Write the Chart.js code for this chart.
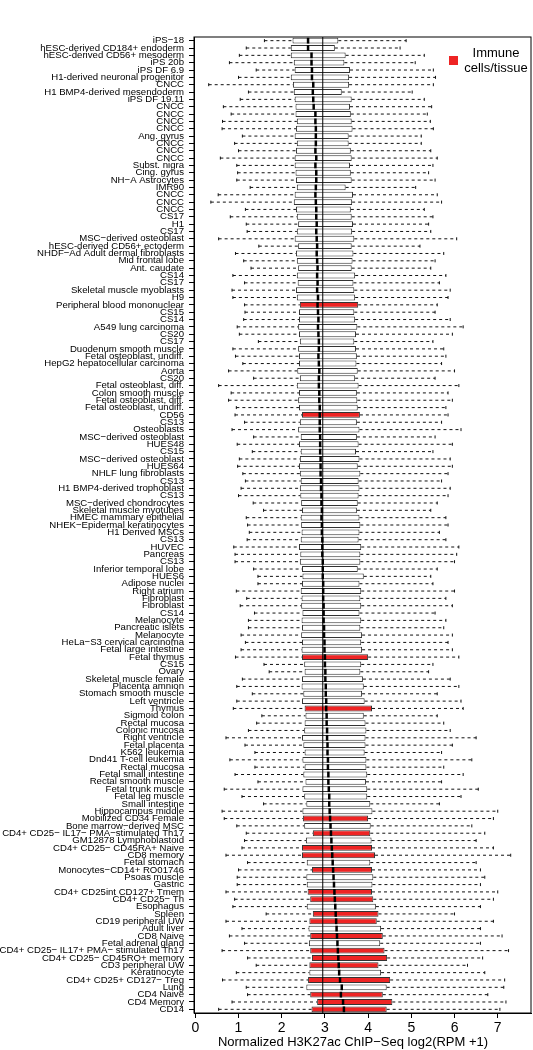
<!DOCTYPE html>
<html>
<head>
<meta charset="utf-8">
<script src="https://cdn.jsdelivr.net/npm/chart.js@4.4.1/dist/chart.umd.min.js"></script>
<style>
  html, body { margin: 0; padding: 0; background: #fff; }
  #wrap { width: 533px; height: 1050px; position: relative; }
</style>
</head>
<body>
<div id="wrap"><canvas id="boxChart"></canvas></div>
<script>
// samples, top to bottom
const labels = [
  "iPS−18", "hESC-derived CD184+ endoderm", "hESC-derived CD56+ mesoderm", "iPS 20b", "iPS DF 6.9",
  "H1-derived neuronal progenitor", "CNCC", "H1 BMP4-derived mesendoderm", "iPS DF 19.11", "CNCC",
  "CNCC", "CNCC", "CNCC", "Ang. gyrus", "CNCC", "CNCC", "CNCC", "Subst. nigra", "Cing. gyrus",
  "NH−A Astrocytes", "IMR90", "CNCC", "CNCC", "CNCC", "CS17", "H1", "CS17", "MSC−derived osteoblast",
  "hESC-derived CD56+ ectoderm", "NHDF−Ad Adult dermal fibroblasts", "Mid frontal lobe", "Ant. caudate",
  "CS14", "CS17", "Skeletal muscle myoblasts", "H9", "Peripheral blood mononuclear", "CS15", "CS14",
  "A549 lung carcinoma", "CS20", "CS17", "Duodenum smooth muscle", "Fetal osteoblast, undiff.",
  "HepG2 hepatocellular carcinoma", "Aorta", "CS20", "Fetal osteoblast, diff.", "Colon smooth muscle",
  "Fetal osteoblast, diff.", "Fetal osteoblast, undiff.", "CD56", "CS13", "Osteoblasts",
  "MSC−derived osteoblast", "HUES48", "CS15", "MSC−derived osteoblast", "HUES64", "NHLF lung fibroblasts",
  "CS13", "H1 BMP4-derived trophoblast", "CS13", "MSC−derived chondrocytes", "Skeletal muscle myotubes",
  "HMEC mammary epithelial", "NHEK−Epidermal keratinocytes", "H1 Derived MSCs", "CS13", "HUVEC",
  "Pancreas", "CS13", "Inferior temporal lobe", "HUES6", "Adipose nuclei", "Right atrium", "Fibroblast",
  "Fibroblast", "CS14", "Melanocyte", "Pancreatic islets", "Melanocyte", "HeLa−S3 cervical carcinoma",
  "Fetal large intestine", "Fetal thymus", "CS15", "Ovary", "Skeletal muscle female", "Placenta amnion",
  "Stomach smooth muscle", "Left ventricle", "Thymus", "Sigmoid colon", "Rectal mucosa", "Colonic mucosa",
  "Right ventricle", "Fetal placenta", "K562 leukemia", "Dnd41 T-cell leukemia", "Rectal mucosa",
  "Fetal small intestine", "Rectal smooth muscle", "Fetal trunk muscle", "Fetal leg muscle",
  "Small intestine", "Hippocampus middle", "Mobilized CD34 Female", "Bone marrow−derived MSC",
  "CD4+ CD25− IL17− PMA−stimulated Th17", "GM12878 Lymphoblastoid", "CD4+ CD25− CD45RA+ Naive",
  "CD8 memory", "Fetal stomach", "Monocytes−CD14+ RO01746", "Psoas muscle", "Gastric",
  "CD4+ CD25int CD127+ Tmem", "CD4+ CD25− Th", "Esophagus", "Spleen", "CD19 peripheral UW",
  "Adult liver", "CD8 Naive", "Fetal adrenal gland", "CD4+ CD25− IL17+ PMA− stimulated Th17",
  "CD4+ CD25− CD45RO+ memory", "CD3 peripheral UW", "Keratinocyte", "CD4+ CD25+ CD127− Treg",
  "Lung", "CD4 Naive", "CD4 Memory", "CD14"
];

// 1 = immune cells/tissue
const immune = [
  0,0,0,0,0,0,0,0,0,0,0,0,
  0,0,0,0,0,0,0,0,0,0,0,0,0,0,
  0,0,0,0,0,0,0,0,0,0,1,0,
  0,0,0,0,0,0,0,0,0,0,0,0,0,
  1,0,0,0,0,0,0,0,0,0,0,0,0,
  0,0,0,0,0,0,0,0,0,0,0,0,0,
  0,0,0,0,0,0,0,1,0,0,0,0,0,
  0,1,0,0,0,0,0,0,0,0,0,0,0,
  0,0,0,1,0,1,0,1,1,0,1,0,0,
  1,1,0,1,1,0,1,0,1,1,1,0,1,
  0,1,1,1
];

// lower whisker, Q1, median, Q3, upper whisker
const whiskerLow = [
  1.60,1.18,1.02,0.79,1.41,1.00,0.31,1.23,1.04,0.65,0.83,0.63,
  0.62,1.09,0.91,1.00,0.58,0.96,0.98,0.96,1.27,0.53,0.36,1.16,0.81,1.18,
  1.20,0.54,1.47,0.93,1.12,1.29,0.87,1.14,0.85,0.87,1.14,1.15,
  1.12,0.97,1.02,1.46,0.87,0.93,1.10,0.77,1.35,0.54,0.83,0.77,0.95,
  0.92,1.14,0.85,1.35,0.97,1.32,1.02,0.98,1.10,1.16,1.06,1.00,1.34,
  1.58,1.18,1.21,1.25,1.20,0.89,0.92,0.92,1.35,1.45,1.45,0.95,1.19,
  1.04,1.37,1.23,1.23,1.06,1.16,1.06,0.93,1.59,1.71,1.09,0.96,1.32,
  0.96,0.88,1.54,1.42,1.23,0.71,1.15,1.38,0.80,1.38,0.92,1.45,0.67,
  1.08,1.58,0.62,0.67,0.96,1.18,1.14,1.08,0.71,1.21,1.00,0.97,0.97,
  0.71,0.91,0.87,1.64,0.71,1.08,0.79,1.14,0.62,1.21,1.41,0.95,0.63,
  1.18,1.21,0.85,0.54
];
const q1 = [
  2.25,2.21,2.21,2.28,2.30,2.21,2.26,2.28,2.30,2.32,2.32,2.35,
  2.33,2.30,2.35,2.33,2.30,2.30,2.32,2.33,2.35,2.30,2.28,2.33,2.35,2.38,
  2.35,2.30,2.38,2.33,2.35,2.38,2.35,2.37,2.33,2.35,2.42,2.40,
  2.40,2.38,2.40,2.42,2.38,2.40,2.40,2.36,2.42,2.35,2.40,2.38,2.40,
  2.47,2.42,2.38,2.44,2.40,2.44,2.42,2.40,2.42,2.44,2.42,2.43,2.45,
  2.47,2.44,2.45,2.46,2.44,2.40,2.43,2.42,2.47,2.48,2.47,2.44,2.46,
  2.45,2.48,2.46,2.47,2.45,2.47,2.46,2.47,2.52,2.53,2.47,2.46,2.50,
  2.47,2.53,2.55,2.53,2.52,2.47,2.50,2.53,2.48,2.53,2.50,2.55,2.48,
  2.52,2.57,2.48,2.49,2.52,2.72,2.56,2.47,2.47,2.58,2.70,2.57,2.58,
  2.60,2.66,2.58,2.72,2.64,2.62,2.66,2.63,2.66,2.70,2.64,2.64,2.61,
  2.57,2.66,2.82,2.69
];
const median = [
  2.61,2.61,2.69,2.69,2.70,2.70,2.73,2.72,2.73,2.74,2.78,2.78,
  2.79,2.79,2.79,2.78,2.80,2.78,2.80,2.80,2.79,2.78,2.79,2.80,2.80,2.81,
  2.80,2.81,2.82,2.81,2.82,2.83,2.82,2.83,2.82,2.84,2.83,2.84,
  2.85,2.84,2.85,2.86,2.86,2.85,2.86,2.87,2.86,2.86,2.87,2.87,2.88,
  2.88,2.88,2.88,2.89,2.89,2.89,2.90,2.90,2.90,2.91,2.91,2.92,2.92,
  2.93,2.92,2.93,2.93,2.94,2.94,2.94,2.95,2.95,2.95,2.96,2.96,2.96,
  2.97,2.97,2.97,2.98,2.98,2.99,2.99,3.00,3.00,3.01,3.01,3.02,3.02,
  3.03,3.03,3.04,3.04,3.05,3.05,3.06,3.06,3.07,3.07,3.08,3.08,3.09,
  3.10,3.10,3.11,3.12,3.13,3.14,3.15,3.16,3.17,3.18,3.19,3.20,3.21,
  3.22,3.23,3.24,3.25,3.26,3.27,3.28,3.29,3.30,3.31,3.32,3.33,3.35,
  3.39,3.37,3.42,3.44
];
const q3 = [
  3.31,3.23,3.48,3.45,3.58,3.56,3.56,3.39,3.62,3.58,3.60,3.62,
  3.64,3.55,3.55,3.60,3.62,3.58,3.60,3.62,3.48,3.65,3.63,3.60,3.62,3.65,
  3.63,3.68,3.62,3.66,3.64,3.62,3.70,3.66,3.68,3.70,3.77,3.68,
  3.70,3.75,3.72,3.68,3.72,3.74,3.73,3.76,3.70,3.78,3.74,3.75,3.76,
  3.81,3.74,3.80,3.74,3.78,3.72,3.80,3.76,3.82,3.78,3.80,3.78,3.76,
  3.74,3.80,3.82,3.80,3.78,3.84,3.82,3.82,3.76,3.90,3.80,3.84,3.82,
  3.84,3.80,3.84,3.82,3.86,3.84,3.86,4.00,3.84,3.82,3.88,3.90,3.86,
  3.92,4.09,3.90,3.94,3.96,3.94,3.94,3.92,3.96,3.96,3.98,3.95,3.98,
  3.98,4.05,4.10,4.00,4.06,4.05,4.08,4.09,4.16,4.05,4.09,4.12,4.10,
  4.09,4.12,4.18,4.24,4.20,4.30,4.34,4.28,4.38,4.44,4.24,4.30,4.51,
  4.43,4.34,4.56,4.43
];
const whiskerHigh = [
  4.88,4.74,5.30,5.09,5.51,5.56,5.51,5.02,5.30,5.47,5.37,5.44,
  5.51,5.23,5.23,5.45,5.60,5.50,5.40,5.55,5.10,5.60,5.70,5.30,5.50,5.40,
  5.45,6.05,5.20,5.75,5.55,5.45,5.80,5.65,5.90,5.85,5.60,5.55,
  5.90,6.20,5.95,5.50,5.75,5.80,5.70,6.00,5.55,6.10,5.85,5.95,5.80,
  5.85,5.70,6.15,5.55,5.95,5.50,5.90,5.95,5.85,5.70,5.90,5.85,5.60,
  5.45,5.80,5.85,5.65,5.80,6.10,6.05,6.00,5.60,5.45,5.50,6.00,5.80,
  5.95,5.55,5.80,5.75,5.95,5.85,5.95,6.10,5.50,5.40,5.90,6.10,5.60,
  6.15,6.20,5.60,5.75,5.90,6.50,5.95,5.70,6.40,5.75,6.20,5.70,6.55,
  6.15,5.65,7.00,6.90,6.40,6.70,6.50,6.90,7.30,6.50,6.60,6.70,6.60,
  7.00,6.90,6.60,6.00,6.90,6.60,7.10,6.60,7.25,6.65,6.30,6.70,7.16,
  7.14,6.77,7.19,7.05
];

// thin vertical reference line
const refLine = 2.95;
const xTicks = [0, 1, 2, 3, 4, 5, 6, 7];
const xTitle = "Normalized H3K27ac ChIP−Seq log2(RPM +1)";
const legendText = ["Immune", "cells/tissue"];

const RED = "#ee2424";
const FONT = "'Liberation Sans', Arial, sans-serif";

// whiskers, medians, frame and legend on top of the bars
const boxExtras = {
  id: "boxExtras",
  afterDatasetsDraw(chart) {
    const ctx = chart.ctx;
    const xs = chart.scales.x, ys = chart.scales.y;
    const area = chart.chartArea;
    const half = 2.9;
    ctx.save();
    labels.forEach((l, i) => {
      const y = ys.getPixelForValue(i);
      const xl = xs.getPixelForValue(whiskerLow[i]);
      const x1 = xs.getPixelForValue(q1[i]);
      const x3 = xs.getPixelForValue(q3[i]);
      const xh = xs.getPixelForValue(whiskerHigh[i]);
      ctx.strokeStyle = "#111";
      ctx.lineWidth = 1;
      ctx.setLineDash([3, 3]);
      ctx.beginPath();
      ctx.moveTo(xl, y); ctx.lineTo(x1, y);
      ctx.moveTo(x3, y); ctx.lineTo(xh, y);
      ctx.stroke();
      ctx.setLineDash([]);
      ctx.beginPath();
      ctx.moveTo(xl, y - 1.5); ctx.lineTo(xl, y + 1.5);
      ctx.moveTo(xh, y - 1.5); ctx.lineTo(xh, y + 1.5);
      ctx.stroke();
      // median
      const xm = xs.getPixelForValue(median[i]);
      ctx.lineWidth = 2.5;
      ctx.strokeStyle = "#000";
      ctx.beginPath();
      ctx.moveTo(xm, y - half); ctx.lineTo(xm, y + half);
      ctx.stroke();
    });
    // reference line
    const xr = xs.getPixelForValue(refLine);
    ctx.lineWidth = 1;
    ctx.strokeStyle = "#000";
    ctx.beginPath();
    ctx.moveTo(xr, area.top); ctx.lineTo(xr, area.bottom);
    ctx.stroke();
    // frame
    ctx.strokeRect(area.left, area.top, area.right - area.left, area.bottom - area.top);
    // legend
    ctx.fillStyle = RED;
    ctx.fillRect(449, 56, 9, 9);
    ctx.fillStyle = "#000";
    ctx.font = "13px " + FONT;
    ctx.textAlign = "center";
    ctx.textBaseline = "alphabetic";
    ctx.fillText(legendText[0], 496, 57);
    ctx.fillText(legendText[1], 496, 72);
    // axis title
    ctx.font = "13px " + FONT;
    ctx.fillText(xTitle, 353, 1046);
    ctx.restore();
  }
};

new Chart(document.getElementById("boxChart"), {
  type: "bar",
  data: {
    labels: labels,
    datasets: [{
      data: labels.map((l, i) => [q1[i], q3[i]]),
      backgroundColor: immune.map(v => v ? RED : "#ffffff"),
      borderColor: "#333",
      borderWidth: 1,
      borderSkipped: false,
      barPercentage: 0.8,
      categoryPercentage: 1
    }]
  },
  options: {
    indexAxis: "y",
    responsive: true,
    maintainAspectRatio: false,
    animation: false,
    layout: { padding: { top: 37, right: 2, left: 0, bottom: 0 } },
    plugins: { legend: { display: false }, tooltip: { enabled: false } },
    scales: {
      x: {
        type: "linear",
        min: -0.03,
        max: 7.77,
        afterFit: s => { s.height = 37; },
        afterBuildTicks: s => { s.ticks = xTicks.map(v => ({ value: v })); },
        grid: { drawOnChartArea: false, tickLength: 5, color: "#000" },
        border: { display: true, color: "#000" },
        ticks: { color: "#000", padding: 2, font: { size: 14, family: FONT } }
      },
      y: {
        type: "category",
        afterFit: s => { s.width = 194; },
        grid: { offset: false, drawOnChartArea: false, tickLength: 5, color: "#000" },
        border: { display: true, color: "#000" },
        ticks: { color: "#000", autoSkip: false, padding: 5, font: { size: 9.6, family: FONT } }
      }
    }
  },
  plugins: [boxExtras]
});
</script>
</body>
</html>
